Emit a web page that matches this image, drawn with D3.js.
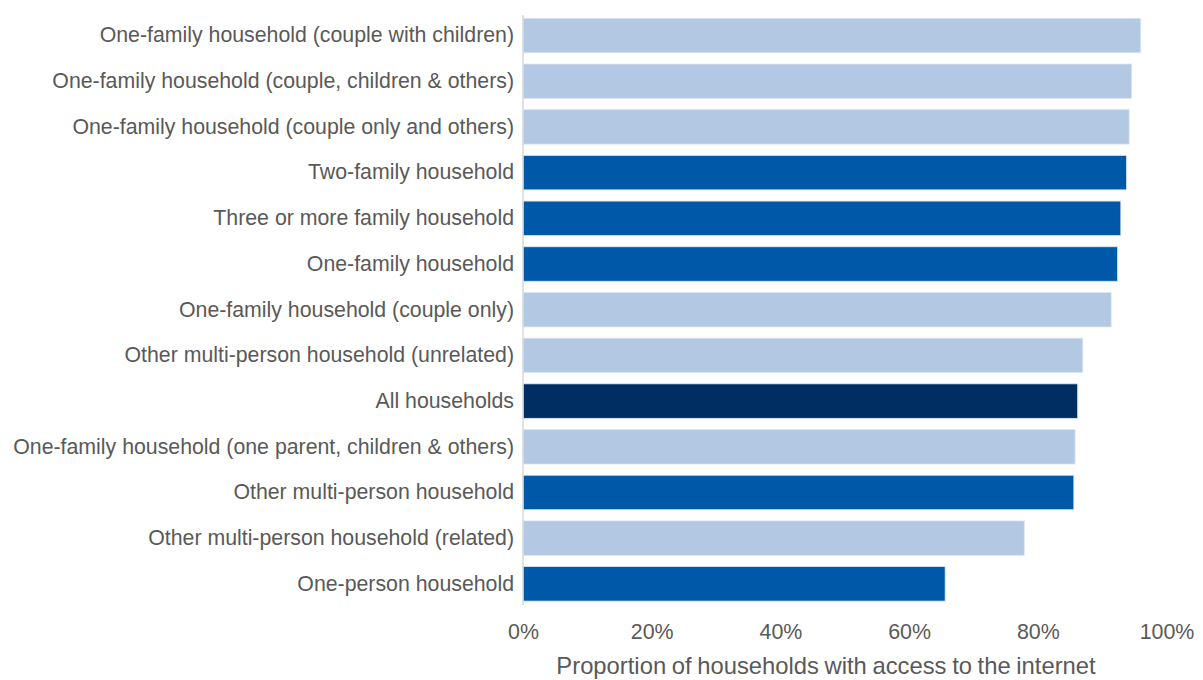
<!DOCTYPE html>
<html>
<head>
<meta charset="utf-8">
<script src="https://cdn.jsdelivr.net/npm/d3@7"></script>
<style>
  html, body { margin: 0; padding: 0; background: #fff; }
  svg { display: block; font-family: "Liberation Sans", Arial, sans-serif; }
</style>
</head>
<body>
<svg id="chart" width="1203" height="680"></svg>
<script>
const categories = [
  "One-family household (couple with children)",
  "One-family household (couple, children & others)",
  "One-family household (couple only and others)",
  "Two-family household",
  "Three or more family household",
  "One-family household",
  "One-family household (couple only)",
  "Other multi-person household (unrelated)",
  "All households",
  "One-family household (one parent, children & others)",
  "Other multi-person household",
  "Other multi-person household (related)",
  "One-person household"
];
const values = [96.0, 94.6, 94.2, 93.8, 92.9, 92.4, 91.4, 87.0, 86.2, 85.8, 85.6, 77.9, 65.6];
const groups = ["sub", "sub", "sub", "main", "main", "main", "sub", "sub", "all", "sub", "main", "sub", "main"];
const tickValues = [0, 20, 40, 60, 80, 100];
const axisTitle = "Proportion of households with access to the internet";

const colors = { sub: "#b3c8e3", main: "#0058a8", all: "#002e62" };

const svg = d3.select("#chart");
const mLeft = 523, mRight = 1166.5, mTop = 12.7, mBottom = 606.7;

const x = d3.scaleLinear().domain([0, 100]).range([mLeft, mRight]);
const y = d3.scaleBand().domain(categories).range([mTop, mBottom]).paddingInner(0.245).paddingOuter(0.1225);

svg.append("g").selectAll("rect")
  .data(categories)
  .join("rect")
  .attr("x", x(0))
  .attr("y", d => y(d))
  .attr("width", (d, i) => x(values[i]) - x(0))
  .attr("height", y.bandwidth())
  .attr("fill", (d, i) => colors[groups[i]])
  .attr("stroke", "#dde7f3")
  .attr("stroke-width", 0.8);

// y axis line
svg.append("line")
  .attr("x1", x(0)).attr("x2", x(0))
  .attr("y1", 15).attr("y2", 605)
  .attr("stroke", "#d9d9d9").attr("stroke-width", 1.5);

// category labels
const yAxis = d3.axisLeft(y).tickSize(0).tickPadding(9);
const gy = svg.append("g").attr("transform", `translate(${x(0)},0)`).call(yAxis);
gy.select(".domain").remove();
gy.selectAll("text")
  .attr("fill", "#595959")
  .attr("font-size", "21.3px")
  .attr("dy", "0.32em")
  .attr("font-family", '"Liberation Sans", Arial, sans-serif');

// x axis tick labels
const xAxis = d3.axisBottom(x).tickValues(tickValues).tickFormat(d => d + "%").tickSize(0).tickPadding(0);
const gx = svg.append("g").attr("transform", `translate(0,623.5)`).call(xAxis);
gx.select(".domain").remove();
gx.selectAll("text")
  .attr("fill", "#595959")
  .attr("font-size", "21.4px")
  .attr("dy", "0.71em")
  .attr("font-family", '"Liberation Sans", Arial, sans-serif');

svg.append("text")
  .attr("x", 826)
  .attr("y", 673.5)
  .attr("text-anchor", "middle")
  .attr("fill", "#595959")
  .attr("font-size", "23.8px")
  .attr("word-spacing", "-1px")
  .text(axisTitle);
</script>
</body>
</html>
